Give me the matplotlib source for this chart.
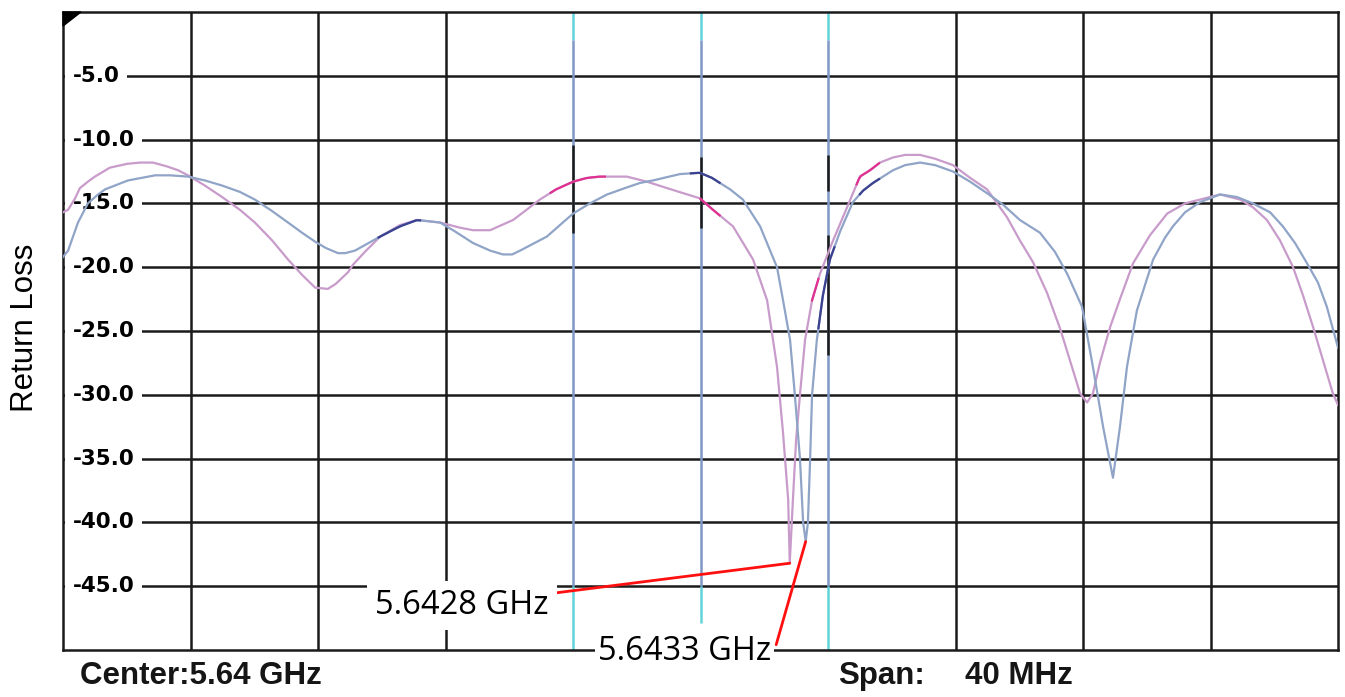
import numpy as np
import matplotlib.pyplot as plt
from matplotlib.patches import Polygon
from matplotlib.transforms import blended_transform_factory

# -----------------------------
# Return loss traces (frequency in MHz, level in dB)
# -----------------------------
freq_a = [5620.00, 5620.16, 5620.38, 5620.53, 5620.78, 5621.00, 5621.47, 5622.01,
          5622.42, 5622.82, 5623.26, 5623.61, 5623.92, 5624.45, 5624.99, 5625.55,
          5626.02, 5626.56, 5627.06, 5627.50, 5627.91, 5628.31, 5628.56, 5628.94,
          5629.10, 5629.47, 5629.95, 5630.57, 5631.11, 5631.83, 5632.45, 5632.86,
          5633.40, 5634.12, 5634.49, 5634.96, 5635.47, 5636.00, 5636.44, 5636.85,
          5637.69, 5638.32, 5639.20, 5639.98, 5640.39, 5641.02, 5641.65, 5642.09,
          5642.40, 5642.59, 5642.75, 5642.80, 5642.90, 5643.00, 5643.12, 5643.28,
          5643.50, 5643.75, 5644.16, 5644.60, 5645.00, 5645.32, 5645.63, 5646.04,
          5646.42, 5646.89, 5647.36, 5647.92, 5648.46, 5648.99, 5649.62, 5650.02,
          5650.43, 5650.87, 5651.28, 5651.59, 5651.91, 5652.13, 5652.31, 5652.53,
          5652.85, 5653.16, 5653.57, 5654.10, 5654.64, 5655.20, 5655.67, 5656.30,
          5656.93, 5657.33, 5657.77, 5658.18, 5658.59, 5658.90, 5659.22, 5659.53,
          5659.84, 5660.00]
rl_a = [-15.7, -15.5, -14.6, -13.8, -13.3, -12.9, -12.2, -11.9,
        -11.8, -11.8, -12.1, -12.4, -12.8, -13.6, -14.5, -15.5,
        -16.5, -17.9, -19.4, -20.6, -21.6, -21.7, -21.3, -20.4,
        -19.8, -18.8, -17.6, -16.7, -16.3, -16.5, -16.9, -17.1,
        -17.1, -16.3, -15.6, -14.7, -13.9, -13.3, -13.0, -12.9,
        -12.9, -13.3, -14.0, -14.6, -15.5, -16.8, -19.4, -22.6,
        -27.8, -33.0, -38.2, -43.2, -38.2, -33.5, -30.0, -25.7,
        -22.6, -20.5, -17.9, -15.3, -12.9, -12.4, -11.8, -11.4,
        -11.2, -11.2, -11.5, -12.0, -13.0, -13.9, -16.1, -17.9,
        -19.6, -22.0, -24.8, -27.3, -29.9, -30.6, -29.9, -27.5,
        -24.7, -22.5, -19.7, -17.5, -15.8, -15.0, -14.7, -14.3,
        -14.7, -15.3, -16.3, -17.9, -20.0, -22.2, -24.7, -27.3,
        -29.9, -30.8]

freq_b = [5620.00, 5620.16, 5620.47, 5620.78, 5621.10, 5621.32, 5622.04, 5622.89,
          5623.36, 5623.92, 5624.45, 5624.99, 5625.55, 5626.02, 5626.56, 5627.06,
          5627.50, 5627.91, 5628.25, 5628.63, 5628.85, 5629.16, 5629.95, 5630.57,
          5631.11, 5631.83, 5632.30, 5632.86, 5633.40, 5633.80, 5634.09, 5634.34,
          5635.18, 5636.00, 5636.53, 5637.07, 5637.63, 5638.10, 5638.51, 5639.36,
          5639.98, 5640.36, 5640.61, 5640.93, 5641.33, 5641.87, 5642.40, 5642.59,
          5642.81, 5642.96, 5643.12, 5643.22, 5643.30, 5643.37, 5643.44, 5643.50,
          5643.65, 5643.84, 5644.06, 5644.38, 5644.78, 5645.10, 5645.41, 5646.04,
          5646.42, 5646.89, 5647.36, 5647.92, 5648.46, 5648.99, 5649.49, 5650.02,
          5650.65, 5651.12, 5651.50, 5651.97, 5652.31, 5652.63, 5652.94, 5653.16,
          5653.38, 5653.69, 5654.20, 5654.57, 5654.82, 5655.20, 5655.67, 5656.30,
          5656.83, 5657.33, 5657.87, 5658.27, 5658.65, 5659.03, 5659.37, 5659.65,
          5660.00]
rl_b = [-19.2, -18.7, -16.5, -15.0, -14.3, -13.9, -13.2, -12.8,
        -12.8, -12.9, -13.2, -13.6, -14.1, -14.7, -15.6, -16.5,
        -17.3, -18.0, -18.5, -18.9, -18.9, -18.7, -17.6, -16.8,
        -16.3, -16.5, -17.2, -18.1, -18.7, -19.0, -19.0, -18.7,
        -17.6, -15.8, -15.0, -14.3, -13.8, -13.4, -13.2, -12.7,
        -12.6, -13.0, -13.4, -13.9, -14.7, -16.8, -20.0, -22.6,
        -25.7, -30.0, -35.0, -40.0, -41.5, -40.0, -35.0, -30.0,
        -25.7, -22.2, -19.4, -17.2, -14.9, -14.0, -13.4, -12.4,
        -12.0, -11.8, -12.0, -12.5, -13.3, -14.2, -15.1, -16.3,
        -17.3, -18.8, -20.5, -23.1, -27.8, -32.5, -36.5, -32.5,
        -27.8, -23.4, -19.4, -17.7, -16.8, -15.7, -14.9, -14.3,
        -14.5, -15.0, -15.7, -16.8, -18.1, -19.7, -21.2, -23.1,
        -26.3]

# resonance markers (GHz, dB)
res_a = (5.6428, -43.2)
res_b = (5.6433, -41.5)

# screen settings
center_ghz = 5.64
span_mhz = 40
y_ticks = [-5, -10, -15, -20, -25, -30, -35, -40, -45]

# marker cursors: frequency (MHz), black trace-crossing bands, lower cyan end
cursor_freqs = [5636, 5640, 5644]
cursor_black = [[(-10.4, -17.3)], [(-11.4, -16.9)], [(-11.2, -14.0), (-17.5, -26.9)]]
cursor_cyan_end = [-50, -47.9, -50]

# trace segments drawn in deeper colour (MHz ranges)
hi_a = [(5635.3, 5637.0), (5640.0, 5640.6), (5643.5, 5643.7), (5644.9, 5645.6)]
hi_b = [(5629.9, 5631.2), (5639.7, 5640.6), (5643.7, 5644.2), (5645.0, 5645.6)]

fa = np.array(freq_a) / 1000
fb = np.array(freq_b) / 1000
ra = np.array(rl_a)
rb = np.array(rl_b)

# -----------------------------
# Figure
# -----------------------------
fig = plt.figure(figsize=(13.45, 6.97), dpi=100)
ax = fig.add_axes([63 / 1345, 47 / 697, 1275 / 1345, 638 / 697])

f_lo = center_ghz - span_mhz / 2000
f_hi = center_ghz + span_mhz / 2000
ax.set_xlim(f_lo, f_hi)
ax.set_ylim(-50, 0)
ax.set_xticks([])
ax.set_yticks([])
for sp in ax.spines.values():
    sp.set_linewidth(1.8)
    sp.set_color('#1a1a1a')

grid_c = '#1a1a1a'
div = span_mhz / 10 / 1000
for i in range(1, 10):
    x = f_lo + i * div
    if round(x * 1000) in cursor_freqs:
        continue
    ax.axvline(x, color=grid_c, lw=1.8, zorder=1)
for t in y_ticks:
    ax.axhline(t, color=grid_c, lw=1.8, zorder=1)

# cursors
for fc, blacks, cend in zip(cursor_freqs, cursor_black, cursor_cyan_end):
    x = fc / 1000
    ax.vlines(x, -2.2, 0, color='#62d4d9', lw=1.8, zorder=2)
    ax.vlines(x, -45, -2.2, color='#7f98c6', lw=1.8, zorder=2)
    ax.vlines(x, cend, -45, color='#62d4d9', lw=1.8, zorder=2)
    for top, bot in blacks:
        ax.vlines(x, bot, top, color=grid_c, lw=1.8, zorder=2)

# y labels inside the grid
trans = blended_transform_factory(ax.transAxes, ax.transData)
for t in y_ticks:
    ax.text(0.0078, t, f'{t:.1f}', transform=trans, ha='left', va='center',
            fontsize=15.5, fontweight='bold', family='DejaVu Sans',
            bbox=dict(boxstyle='square,pad=0.35', fc='white', ec='none'), zorder=3)

# traces
ax.plot(fa, ra, color='#c89bcb', lw=1.6, zorder=4)
ax.plot(fb, rb, color='#8fa4c7', lw=1.6, zorder=4)
for lo, hi in hi_a:
    xs = np.linspace(lo, hi, 12) / 1000
    ax.plot(xs, np.interp(xs, fa, ra), color='#e0308f', lw=1.6, zorder=4)
for lo, hi in hi_b:
    xs = np.linspace(lo, hi, 12) / 1000
    ax.plot(xs, np.interp(xs, fb, rb), color='#3b4190', lw=1.6, zorder=4)

# corner flag
ax.add_patch(Polygon([(0, 1), (18 / 1275, 1), (0, 1 - 14 / 638)], closed=True,
                     transform=ax.transAxes, color='black', zorder=6, clip_on=False))

# resonance annotations
ann_kw = dict(fontsize=23.5, family='Open Sans', zorder=7, annotation_clip=False,
              ha='left', va='center')
ax.annotate(f'{res_a[0]:.4f} GHz', xy=res_a, xytext=(5.62979, -46.5),
            bbox=dict(boxstyle='square,pad=0.25', fc='white', ec='none'),
            arrowprops=dict(arrowstyle='-', color='#ff1010', lw=2, shrinkA=0, shrinkB=0,
                            relpos=(1.0, 0.85)),
            **ann_kw)
ax.annotate(f'{res_b[0]:.4f} GHz', xy=res_b, xytext=(5.63678, -50.1),
            bbox=dict(boxstyle='square,pad=0.1', fc='white', ec='none'),
            arrowprops=dict(arrowstyle='-', color='#ff1010', lw=2, shrinkA=0, shrinkB=0,
                            relpos=(1.03, 0.7)),
            **ann_kw)

# footer and axis title
foot_kw = dict(fontsize=22.5, fontweight='bold', family='Liberation Sans', va='center', color='#151515')
fig.text(80 / 1345, 1 - 676 / 697, f'Center:{center_ghz:.2f} GHz', ha='left', **foot_kw)
fig.text(838 / 1345, 1 - 676 / 697, 'Span:', ha='left', **foot_kw)
fig.text(965 / 1345, 1 - 676 / 697, f'{span_mhz} MHz', ha='left', **foot_kw)
fig.text(25 / 1345, 1 - 328 / 697, 'Return Loss', rotation=90, ha='center', va='center',
         fontsize=22.5, family='Liberation Sans')

fig.savefig('out.png', dpi=100)
plt.close(fig)
